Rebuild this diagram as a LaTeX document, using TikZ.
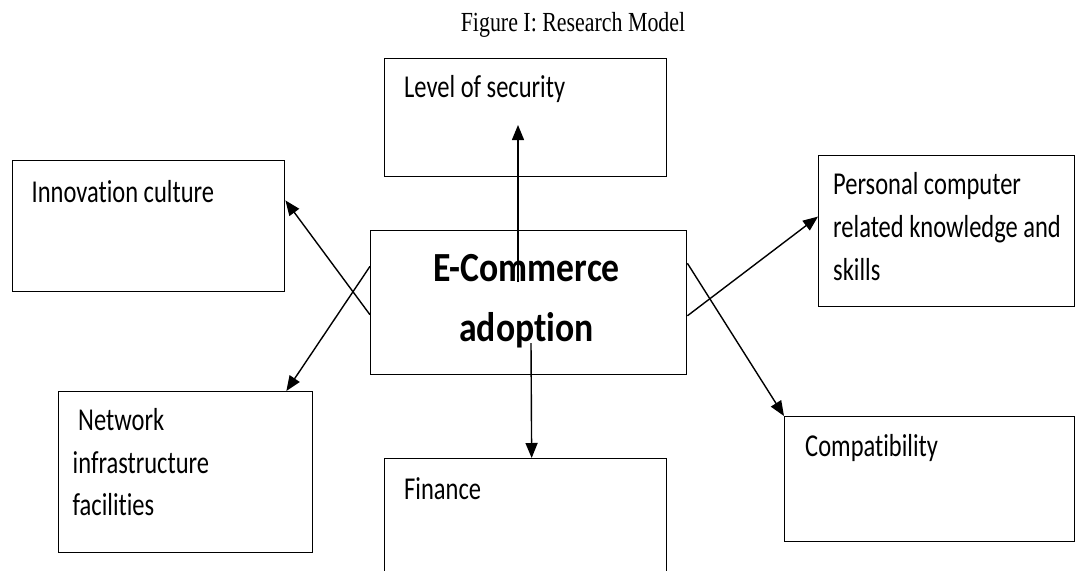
\documentclass[tikz,border=0pt]{standalone}
\usepackage{fontspec}
\setmainfont{Liberation Serif}
\newfontfamily\calib[Ligatures=NoCommon]{Carlito}
\usetikzlibrary{arrows.meta,calc}
\begin{document}
\begin{tikzpicture}[x=1pt,y=-1pt,
  box/.style={draw, line width=1.4pt, inner sep=0pt, anchor=north west},
  lbl/.style={anchor=base west, inner sep=0pt, align=left, yscale=1.3, transform shape,
    font=\calib\fontsize{24.5}{32.7}\selectfont},
  link/.style={line width=1.4pt, -{Triangle[length=15pt,width=12pt]}}]
\useasboundingbox (0,0) rectangle (1075,570);
\clip (0,0) rectangle (1075,570);

% title
\node[anchor=base, inner sep=0pt, yscale=1.26, transform shape,
  font=\fontsize{21.9}{26}\selectfont] (title) at (573,31.7) {Figure I: Research Model};

% boxes
\node[box, minimum width=282pt, minimum height=118pt] (sec) at (384,58) {};
\node[box, minimum width=272pt, minimum height=131pt] (inn) at (12,160) {};
\node[box, minimum width=316pt, minimum height=144pt] (ec)  at (370,230) {};
\node[box, minimum width=254pt, minimum height=161pt] (net) at (58,391) {};
\node[box, minimum width=282pt, minimum height=150pt] (fin) at (384,458) {};
\node[box, minimum width=256pt, minimum height=151pt] (pc)  at (818,155) {};
\node[box, minimum width=290pt, minimum height=125pt] (cmp) at (784,416) {};

% labels (multi-line labels are placed by the baseline of their last line)
\node[lbl] (secT) at (404,97) {Level of security};
\node[lbl] (innT) at (31.5,202) {Innovation culture};
\node[lbl] (finT) at (404,499) {Finance};
\node[lbl] (cmpT) at (805,456.7) {Compatibility};
\node[lbl] (pcT)  at (833,280) {Personal computer\\related knowledge and\\skills};
\node[lbl] (netT) at (72.5,515.7) {\ Network\\infrastructure\\facilities};
\node[anchor=base, inner sep=0pt, align=center, yscale=1.16, transform shape,
  font=\calib\bfseries\fontsize{35.7}{51.7}\selectfont] (ecT) at (526.5,341.7)
  {E-Commerce\\adoption};

% connector end points inside boxes
\coordinate (upS) at (518,282);
\coordinate (upE) at (518,125);
\coordinate (dnS) at (531,343);

% connectors
\draw[link] (upS) -- (upE);
\draw[link] (dnS) -- ($(fin.north west)!0.521!(fin.north east)$);
\draw[link] ($(ec.north west)!0.583!(ec.south west)$) -- ($(inn.north east)!0.305!(inn.south east)$);
\draw[link] ($(ec.north west)!0.25!(ec.south west)$) -- ($(net.north west)!0.894!(net.north east)$);
\draw[link] ($(ec.north east)!0.59!(ec.south east)$) -- ($(pc.north west)!0.404!(pc.south west)$);
\draw[link] ($(ec.north east)!0.229!(ec.south east)$) -- (cmp.north west);
\end{tikzpicture}
\end{document}
